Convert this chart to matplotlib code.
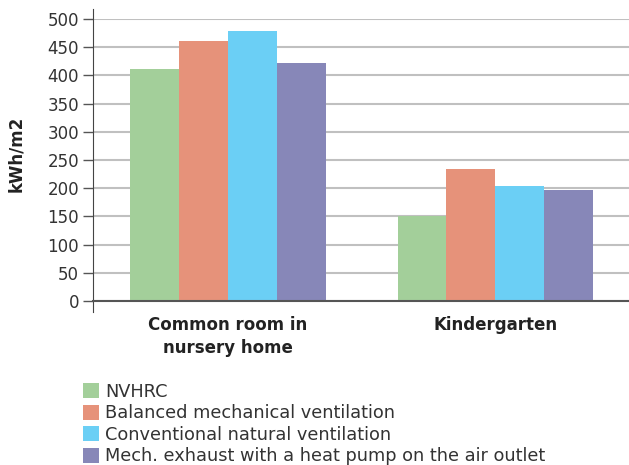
import numpy as np
import matplotlib.pyplot as plt

categories = ['Common room in\nnursery home', 'Kindergarten']
series = ['NVHRC', 'Balanced mechanical ventilation',
          'Conventional natural ventilation',
          'Mech. exhaust with a heat pump on the air outlet']
values = {
    'NVHRC': [411, 151],
    'Balanced mechanical ventilation': [461, 234],
    'Conventional natural ventilation': [479, 204],
    'Mech. exhaust with a heat pump on the air outlet': [422, 197],
}
colors = ['#a3cf9a', '#e6927a', '#6bcff5', '#8787b8']
yticks = list(range(0, 501, 50))

plt.rcParams['font.family'] = ['DejaVu Sans']

fig = plt.figure(figsize=(6.29, 4.65), dpi=100)
ax = fig.add_axes([0.148, 0.3527, 0.852, 0.6064])

x = np.arange(len(categories))
w = 0.183
for i, (name, c) in enumerate(zip(series, colors)):
    ax.bar(x + (i - 1.5) * w, values[name], width=w, color=c, label=name, zorder=3)

ax.set_xlim(-0.505, 1.5)
ax.set_ylim(0, 500)
ax.set_yticks(yticks)
ax.tick_params(axis='y', labelsize=12, length=7, width=1, pad=3, color='#555555',
               labelcolor='#333333')
ax.set_xticks(x)
ax.set_xticklabels(categories, fontsize=12, fontweight='bold', color='#222222',
                   linespacing=1.35)
ax.tick_params(axis='x', length=0, pad=11)
ax.grid(axis='y', color='#c0c0c0', linewidth=1.5, zorder=0)

for s in ['top', 'right']:
    ax.spines[s].set_visible(False)
ax.spines['left'].set_color('#444444')
ax.spines['left'].set_bounds(-20, 517)
ax.spines['bottom'].set_color('#555555')
ax.spines['bottom'].set_linewidth(1.5)
ax.spines['bottom'].set_zorder(4)

ax.set_ylabel('kWh/m2', fontsize=12, fontweight='bold', color='#222222')
ax.yaxis.set_label_coords(-0.127, 0.52)

fig.legend(loc='upper left', bbox_to_anchor=(0.12, 0.192), frameon=False,
           fontsize=12.8, handlelength=0.9, handleheight=0.9, handletextpad=0.35,
           labelspacing=0.2, borderaxespad=0, labelcolor='#333333')

plt.savefig('out.png', dpi=100)
